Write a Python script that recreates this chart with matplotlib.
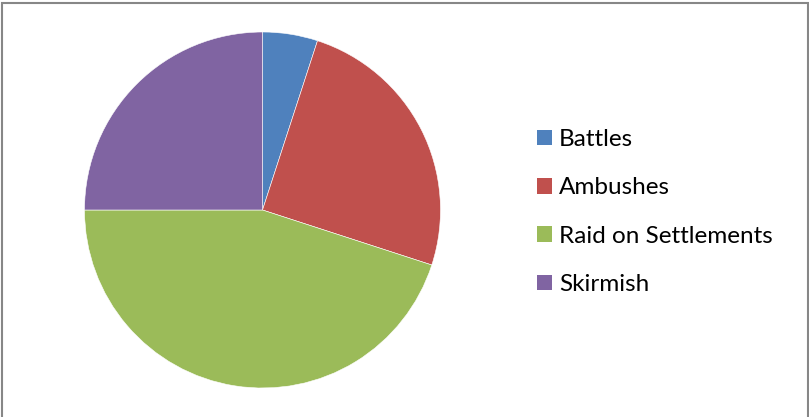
import matplotlib
matplotlib.use("Agg")
import matplotlib.pyplot as plt
from matplotlib.patches import Rectangle

# engagement types and counts
labels = ["Battles", "Ambushes", "Raid on Settlements", "Skirmish"]
counts = [1, 5, 9, 5]
colors = ["#4F81BD", "#C0504D", "#9BBB59", "#8064A2"]

W, H = 809, 417
fig = plt.figure(figsize=(W / 100, H / 100), dpi=100)
fig.patch.set_facecolor("white")

# pie area: centre (262, 210), radius 178 px
cx, cy, r = 262.5, 210, 178
ax = fig.add_axes([(cx - r) / W, (H - cy - r) / H, 2 * r / W, 2 * r / H])
wedges, _ = ax.pie(counts, colors=colors, startangle=90, counterclock=False,
                   wedgeprops=dict(edgecolor="white", linewidth=0.4))
ax.set_aspect("equal")
ax.set_xlim(-1, 1)
ax.set_ylim(-1, 1)

leg = fig.legend(wedges, labels, loc="center left",
                 bbox_to_anchor=(537 / W, (H - 212) / H),
                 frameon=False, prop={"family": "Lato", "size": 17.5},
                 handlelength=0.6, handleheight=0.6, handletextpad=0.3,
                 labelspacing=1.12, borderpad=0, borderaxespad=0)
for h in leg.legend_handles:
    h.set_edgecolor("none")

# chart border
fig.patches.append(Rectangle((1.5 / W, -0.01), (807.5 - 1.5) / W, (H - 3) / H + 0.01,
                             transform=fig.transFigure, fill=False,
                             edgecolor="#878787", linewidth=1.5))

fig.savefig("out.png", dpi=100)
